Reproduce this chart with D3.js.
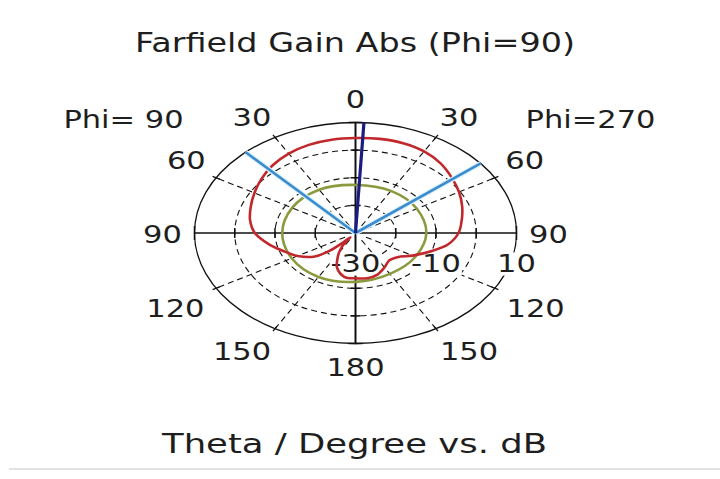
<!DOCTYPE html>
<html>
<head>
<meta charset="utf-8">
<script src="https://cdn.jsdelivr.net/npm/d3@7"></script>
<style>
  html, body { margin: 0; padding: 0; background: #fff; }
  text { font-family: "DejaVu Sans", Verdana, sans-serif; fill: #1e1e1e; }
</style>
</head>
<body>
<div id="chart"></div>
<script>
const w = 720;
const h = 479;

// theta in degrees: negative side = Phi=90 (left), positive side = Phi=270 (right)
const thetaRed = [-180, -170, -160, -155, -150, -145, -141, -138, -135, -130, -120, -110, -100, -90, -80, -70, -60, -50, -40, -30, -20, -10,
                  0, 10, 20, 30, 40, 50, 60, 70, 80, 90, 100, 110, 120, 130, 140, 150, 160, 170];
const gainRed = [-13.6, -13.9, -16.6, -19.3, -21.8, -24.5, -28, -25.5, -21, -16.8, -13.4, -10.9, -7.9, -5.0, -3.4, -2.3, -1.0, 0.5, 2.0, 3.2, 3.95, 4.3,
                 4.4, 4.6, 4.6, 4.1, 2.9, 1.2, -0.3, -1.8, -3.2, -4.4, -6.6, -10.3, -13.6, -16.4, -17.0, -15.6, -14.0, -13.4];

const thetaGreen = [-180, -150, -120, -90, -60, -30, 0, 30, 60, 90, 120, 150];
const gainGreen = [-12.3, -11.6, -11.7, -11.8, -11.8, -11.9, -12.6, -12.4, -12.4, -12.4, -12.8, -12.9];

const mainLobe = 3;          // main lobe direction, deg
const beamLines = [-43, 51]; // 3 dB angular width limits, deg

const dbDomain = [-30, 10];
const ringValues = [-20, -10, 0];
const dbLabels = [-30, -10, 10];
const spokeAngles = [30, 60, 120, 150];
const angleLabels = [0, 30, 60, 90, 120, 150, 180];

const title = "Farfield Gain Abs (Phi=90)";
const xTitle = "Theta / Degree vs. dB";

window.onload = function() {
    const cx = 355.5, cy = 233, rx = 161, ry = 110.5;
    const SX = 1.27;

    const svg = d3.select("#chart")
        .append("svg")
        .attr("width", w)
        .attr("height", h);

    svg.append("rect").attr("width", w).attr("height", h).attr("fill", "#fff");

    // the plot is stretched horizontally, so radius has one scale per direction
    const xr = d3.scaleLinear().domain(dbDomain).range([0, rx]);
    const yr = d3.scaleLinear().domain(dbDomain).range([0, ry]);
    const ang = d3.scaleLinear().domain([0, 360]).range([0, 2 * Math.PI]);

    const px = (th, v) => cx + xr(v) * Math.sin(ang(th));
    const py = (th, v) => cy - yr(v) * Math.cos(ang(th));

    const grid = svg.append("g");

    // dashed rings
    grid.selectAll("ellipse.ring")
        .data(ringValues)
        .enter()
        .append("ellipse")
        .attr("cx", cx).attr("cy", cy)
        .attr("rx", d => xr(d)).attr("ry", d => yr(d))
        .attr("fill", "none")
        .attr("stroke", "#111")
        .attr("stroke-width", 1.1)
        .attr("stroke-dasharray", "6,4");

    // dashed spokes
    const spokes = spokeAngles.concat(spokeAngles.map(a => -a));
    grid.selectAll("line.spoke")
        .data(spokes)
        .enter()
        .append("line")
        .attr("x1", d => px(d, -27)).attr("y1", d => py(d, -27))
        .attr("x2", d => px(d, 10)).attr("y2", d => py(d, 10))
        .attr("stroke", "#111")
        .attr("stroke-width", 1.1)
        .attr("stroke-dasharray", "6,4");

    // outer ring
    grid.append("ellipse")
        .attr("cx", cx).attr("cy", cy)
        .attr("rx", xr(10)).attr("ry", yr(10))
        .attr("fill", "none")
        .attr("stroke", "#111")
        .attr("stroke-width", 1.3);

    // small ticks on the outer ring
    grid.selectAll("line.otick")
        .data(spokes)
        .enter()
        .append("line")
        .attr("x1", d => px(d, 9)).attr("y1", d => py(d, 9))
        .attr("x2", d => px(d, 11)).attr("y2", d => py(d, 11))
        .attr("stroke", "#111")
        .attr("stroke-width", 1.3);

    // axes
    grid.append("line")
        .attr("x1", px(-90, 10)).attr("y1", cy)
        .attr("x2", px(90, 10)).attr("y2", cy)
        .attr("stroke", "#111").attr("stroke-width", 1.6);
    grid.append("line")
        .attr("x1", cx).attr("y1", py(0, 10))
        .attr("x2", cx).attr("y2", py(180, 10))
        .attr("stroke", "#111").attr("stroke-width", 2);

    const tickVals = [-20, -10, 0, 10];
    [-90, 90].forEach(th => {
        grid.selectAll(null)
            .data(tickVals)
            .enter()
            .append("line")
            .attr("x1", d => px(th, d)).attr("x2", d => px(th, d))
            .attr("y1", d => cy - (d === 10 ? 7 : 5))
            .attr("y2", d => cy + (d === 10 ? 7 : 5))
            .attr("stroke", "#111").attr("stroke-width", 1.5);
    });
    [0, 180].forEach(th => {
        grid.selectAll(null)
            .data(tickVals)
            .enter()
            .append("line")
            .attr("y1", d => py(th, d)).attr("y2", d => py(th, d))
            .attr("x1", d => cx - (d === 10 ? 7 : 5))
            .attr("x2", d => cx + (d === 10 ? 7 : 5))
            .attr("stroke", "#111").attr("stroke-width", 1.5);
    });

    function label(parent, x, y, txt, anchor) {
        return parent.append("text")
            .attr("transform", `translate(${x},${y}) scale(${SX},1)`)
            .attr("text-anchor", anchor || "middle")
            .attr("dominant-baseline", "central")
            .style("font-size", "24px")
            .text(txt);
    }

    // radial dB labels with white boxes
    const dbg = svg.append("g");
    dbLabels.forEach(v => {
        const t = label(dbg, px(90, v), cy + 31, v);
        const b = t.node().getBBox();
        dbg.insert("rect", "text")
            .attr("x", px(90, v) - b.width * SX / 2 - 1)
            .attr("y", cy + 31 - b.height / 2 + 2)
            .attr("width", b.width * SX + 2)
            .attr("height", b.height - 4)
            .attr("fill", "#fff");
    });

    // angle labels, both halves
    const nudge = {0: [0, 0], 30: [7, 0], 60: [2, -6], 90: [0, 2], 120: [13, 9], 150: [17, 3], 180: [0, 1.5]};
    const ag = svg.append("g");
    angleLabels.forEach(a => {
        const sides = (a === 0 || a === 180) ? [1] : [-1, 1];
        sides.forEach(s => {
            const th = a * s;
            const x = cx + (rx + 32) * Math.sin(ang(th)) + s * nudge[a][0];
            const y = cy - (ry + 23) * Math.cos(ang(th)) + nudge[a][1];
            label(ag, x, y, a);
        });
    });
    label(ag, cx - 232, cy - 113, "Phi= 90");
    label(ag, cx + 235, cy - 113, "Phi=270");

    // curves
    const line = d3.line()
        .x(d => px(d[0], d[1]))
        .y(d => py(d[0], d[1]))
        .curve(d3.curveCatmullRomClosed.alpha(0.5));

    svg.append("path")
        .datum(d3.zip(thetaGreen, gainGreen))
        .attr("d", line)
        .attr("fill", "none")
        .attr("stroke", "#8a9a3e")
        .attr("stroke-width", 2.6);

    svg.append("path")
        .datum(d3.zip(thetaRed, gainRed))
        .attr("d", line)
        .attr("fill", "none")
        .attr("stroke", "#c0282c")
        .attr("stroke-width", 2.6);

    // 3 dB width lines
    const bl = svg.append("g");
    bl.selectAll("line.halo")
        .data(beamLines)
        .enter()
        .append("line")
        .attr("x1", cx).attr("y1", cy)
        .attr("x2", d => px(d, 10)).attr("y2", d => py(d, 10))
        .attr("stroke", "#dff3fb")
        .attr("stroke-width", 5);
    bl.selectAll("line.beam")
        .data(beamLines)
        .enter()
        .append("line")
        .attr("x1", cx).attr("y1", cy)
        .attr("x2", d => px(d, 10)).attr("y2", d => py(d, 10))
        .attr("stroke", "#3a8ccf")
        .attr("stroke-width", 2.6);

    // main lobe direction
    svg.append("line")
        .attr("x1", cx).attr("y1", cy)
        .attr("x2", px(mainLobe, 10)).attr("y2", py(mainLobe, 10))
        .attr("stroke", "#1b1b82")
        .attr("stroke-width", 3.2);

    // titles
    svg.append("text")
        .attr("x", 355).attr("y", 52)
        .attr("text-anchor", "middle")
        .attr("textLength", 440)
        .attr("lengthAdjust", "spacingAndGlyphs")
        .style("font-size", "26px")
        .text(title);

    svg.append("text")
        .attr("x", 354.5).attr("y", 453)
        .attr("text-anchor", "middle")
        .attr("textLength", 385)
        .attr("lengthAdjust", "spacingAndGlyphs")
        .style("font-size", "26px")
        .text(xTitle);

    svg.append("line")
        .attr("x1", 9).attr("x2", w)
        .attr("y1", 469).attr("y2", 469)
        .attr("stroke", "#e2e2e2")
        .attr("stroke-width", 2);
};
</script>
</body>
</html>
